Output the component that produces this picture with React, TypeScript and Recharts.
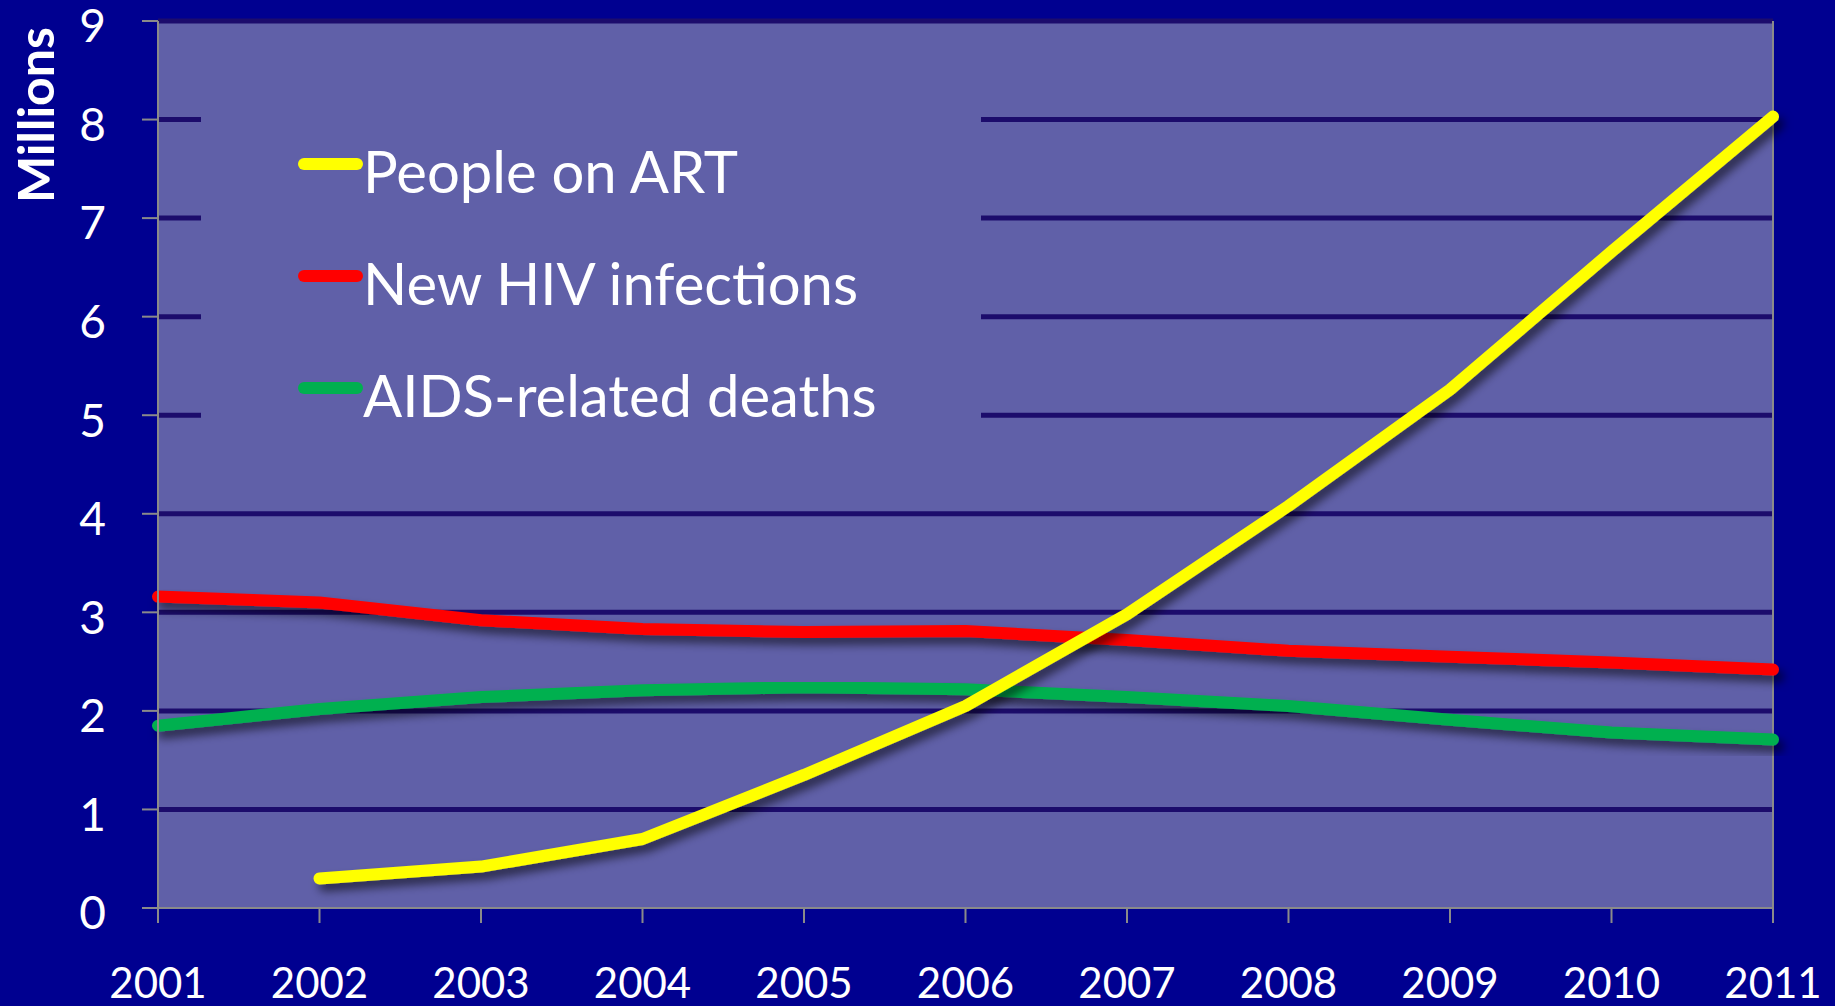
import React from "react"
import { LineChart, Line, XAxis, YAxis, ReferenceArea, ReferenceLine, Legend } from "recharts"

// Global HIV response, 2001–2011 (millions)
const years = ["2001", "2002", "2003", "2004", "2005", "2006", "2007", "2008", "2009", "2010", "2011"]
const peopleOnArt = [null, 0.3, 0.42, 0.7, 1.35, 2.05, 2.98, 4.08, 5.26, 6.66, 8.03]
const newInfections = [3.16, 3.1, 2.92, 2.83, 2.8, 2.81, 2.72, 2.61, 2.55, 2.49, 2.42]
const aidsDeaths = [1.85, 2.02, 2.14, 2.21, 2.24, 2.22, 2.14, 2.05, 1.91, 1.78, 1.71]
const yTicks = [0, 1, 2, 3, 4, 5, 6, 7, 8, 9]
const gridValues = [1, 2, 3, 4, 5, 6, 7, 8, 9]

const data = years.map((year, i) => ({
  year,
  art: peopleOnArt[i],
  infections: newInfections[i],
  deaths: aidsDeaths[i],
}))

const FONT = "Lato, 'Open Sans', sans-serif"
const PAGE_BG = "#000090"
const PLOT_BG = "#6060A8"
const GRID = "#1C0C6C"
const AXIS = "#8A8A8A"

const legendOrder = ["art", "infections", "deaths"]

const renderLegend = (props: any) => {
  const items = [...(props.payload || [])].sort(
    (a: any, b: any) => legendOrder.indexOf(a.dataKey) - legendOrder.indexOf(b.dataKey)
  )
  return (
    <div style={{ position: "relative", width: 780, height: 345, background: PLOT_BG }}>
      {items.map((item: any, i: number) => (
        <div
          key={item.dataKey}
          style={{
            position: "absolute",
            left: 97,
            top: 64 + i * 112 - 40,
            height: 80,
            display: "flex",
            alignItems: "center",
            whiteSpace: "nowrap",
          }}
        >
          <span
            style={{
              display: "inline-block",
              width: 65,
              height: 12,
              borderRadius: 6,
              background: item.color,
            }}
          />
          <span style={{ color: "#fff", fontFamily: FONT, fontSize: 58, lineHeight: "80px", marginTop: 14 }}>
            {item.value}
          </span>
        </div>
      ))}
    </div>
  )
}

export default function App() {
  const lineProps = {
    type: "linear" as const,
    strokeWidth: 12,
    strokeLinecap: "round" as const,
    strokeLinejoin: "round" as const,
    dot: false,
    activeDot: false,
    isAnimationActive: false,
    filter: "url(#lineShadow)",
  }

  return (
    <div style={{ position: "absolute", left: 0, top: 0, width: 1835, height: 1006, background: PAGE_BG }}>
      <svg width={0} height={0} style={{ position: "absolute" }}>
        <defs>
          <filter id="lineShadow" x="-10%" y="-10%" width="130%" height="140%">
            <feDropShadow dx={5} dy={7} stdDeviation={5} floodColor="#000" floodOpacity={0.55} />
          </filter>
        </defs>
      </svg>

      <div
        style={{
          position: "absolute",
          left: 35,
          top: 115,
          transform: "translate(-50%, -50%) rotate(-90deg)",
          color: "#fff",
          fontFamily: FONT,
          fontWeight: 700,
          fontSize: 50,
          whiteSpace: "nowrap",
        }}
      >
        Millions
      </div>

      <LineChart width={1835} height={1006} data={data} margin={{ top: 21, right: 62, left: 0, bottom: 0 }}>
        <ReferenceArea y1={0} y2={9} fill={PLOT_BG} fillOpacity={1} stroke="none" ifOverflow="visible" />
        {gridValues.map((v) => (
          <ReferenceLine key={v} y={v} stroke={GRID} strokeWidth={5} />
        ))}
        <ReferenceLine x="2011" stroke={AXIS} strokeWidth={2} />
        <XAxis
          dataKey="year"
          height={98}
          interval={0}
          axisLine={{ stroke: AXIS, strokeWidth: 2 }}
          tickLine={{ stroke: AXIS, strokeWidth: 2 }}
          tickSize={15}
          tickMargin={45}
          tick={{ fill: "#fff", fontSize: 42, fontFamily: FONT }}
        />
        <YAxis
          width={158}
          domain={[0, 9]}
          ticks={yTicks}
          interval={0}
          axisLine={{ stroke: AXIS, strokeWidth: 2 }}
          tickLine={{ stroke: AXIS, strokeWidth: 2 }}
          tickSize={16}
          tickMargin={36}
          tick={{ fill: "#fff", fontSize: 46, fontFamily: FONT, dy: 5 }}
        />
        <Legend
          layout="vertical"
          align="center"
          verticalAlign="middle"
          content={renderLegend}
          wrapperStyle={{ position: "absolute", left: 201, top: 100, width: 780, height: 345 }}
        />
        <Line {...lineProps} dataKey="deaths" name="AIDS-related deaths" stroke="#00B050" />
        <Line {...lineProps} dataKey="infections" name="New HIV infections" stroke="#FF0000" />
        <Line {...lineProps} dataKey="art" name="People on ART" stroke="#FFFF00" />
      </LineChart>
    </div>
  )
}
